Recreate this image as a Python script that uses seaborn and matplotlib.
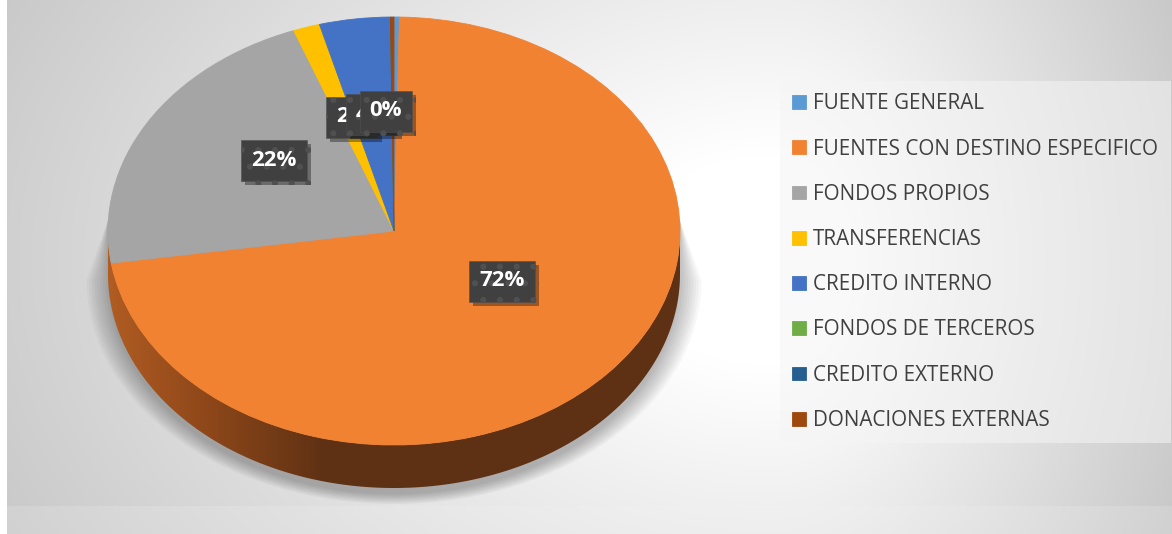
import numpy as np
import matplotlib
matplotlib.use("Agg")
import matplotlib.pyplot as plt
import seaborn as sns
from matplotlib.path import Path
from matplotlib.patches import PathPatch, Polygon
from matplotlib.colors import LinearSegmentedColormap
import matplotlib.patheffects as pe

# data (percent of total)
fuentes = ["FUENTE GENERAL", "FUENTES CON DESTINO ESPECIFICO", "FONDOS PROPIOS",
           "TRANSFERENCIAS", "CREDITO INTERNO", "FONDOS DE TERCEROS",
           "CREDITO EXTERNO", "DONACIONES EXTERNAS"]
valores = [0.3, 72.3, 21.7, 1.5, 4.0, 0.0, 0.0, 0.2]
etiquetas = ["72%", "22%", "2%", "4%", "0%"]
colores = ["#5B9BD5", "#F08232", "#A5A5A5", "#FFC000", "#4472C4",
           "#70AD47", "#255E91", "#9E480E"]

sns.set_theme(style="white")
plt.rcParams["font.family"] = ["Open Sans", "DejaVu Sans"]
plt.rcParams["hatch.color"] = "#5a5a5a"
plt.rcParams["hatch.linewidth"] = 2.0
pal = sns.color_palette(colores)

W, H = 1172, 534
fig = plt.figure(figsize=(W / 100, H / 100), dpi=100)
fig.patch.set_facecolor("#ffffff")

# background gradient of the chart area
bg = fig.add_axes([7 / W, 0, 1 - 7 / W, 1])
bg.set_axis_off()
yy, xx = np.mgrid[0:H, 7:W]
dx = (xx - 770) / np.where(xx < 770, 1000, 520)
dy = (yy - 260) / 700
r = np.sqrt(dx ** 2 + dy ** 2)
shade = 1 - 0.24 * np.clip((r - 0.15) / 0.8, 0, 1.1)
low = yy > 505
shade[low] = shade[low] * 0.8 + 0.2 * 0.95
bg.imshow(np.dstack([shade] * 3), aspect="auto", extent=(0, 1, 0, 1))
bg.set_xlim(0, 1)
bg.set_ylim(0, 1)

# pie axes: the box squashes the circle into the 3D ellipse
D = 43 / 214  # depth of the side, in radius units
ax = fig.add_axes([108 / W, (H - 488) / H, 572 / W, 471 / H])
ax.set_zorder(2)

# soft shadow under the cake
th = np.linspace(np.pi, 2 * np.pi, 200)
for s in np.linspace(0.0, 0.075, 9):
    arc = np.column_stack([(1 + s) * np.cos(th),
                           (1 + 0.6 * s) * np.sin(th) - D - 0.03])
    shp = np.vstack([[-1.0, 0.05], arc, [1.0, 0.05]])
    ax.add_patch(Polygon(shp, closed=True, facecolor="black", alpha=0.03,
                         lw=0, clip_on=False, zorder=0))

# side of the cake with horizontal shading
top = np.column_stack([np.cos(th), np.sin(th)])
bot = np.column_stack([np.cos(th[::-1]), np.sin(th[::-1]) - D])
side = PathPatch(Path(np.vstack([top, bot, top[:1]]), closed=True),
                 transform=ax.transData, facecolor="none", lw=0)
ax.add_patch(side)
side_cmap = LinearSegmentedColormap.from_list(
    "side", [(0, "#b05c22"), (0.18, "#8c4619"), (0.38, "#5e3114"), (1, "#5e3114")])
img = ax.imshow(np.linspace(0, 1, 300)[None, :], cmap=side_cmap, aspect="auto",
                extent=(-1, 1, -1 - D, 0), zorder=1)
img.set_clip_path(side)

# top face
wedges, _ = ax.pie(valores, colors=pal, startangle=90, counterclock=False,
                   wedgeprops=dict(linewidth=0.6, zorder=2))
for w in wedges:
    w.set_edgecolor(w.get_facecolor())
ax.set_aspect("auto")
ax.set_xlim(-1, 1)
ax.set_ylim(-1 - D, 1)
ax.set_axis_off()


def px(x, y):
    # pixel position in the picture -> data coordinates of the pie axes
    return (x - 394) / 286, (231 - y) / 214


label_pos = [(502, 281), (274, 160), (352, 117), (372, 114), (386, 111)]
for txt, (x, y) in zip(etiquetas, label_pos):
    t = ax.text(*px(x, y), txt, ha="center", va="center", color="white",
                fontsize=16, fontweight="bold", zorder=5,
                bbox=dict(boxstyle="square,pad=0.45", facecolor="#404040",
                          edgecolor="#505050", linewidth=0.4, hatch="."))
    t.get_bbox_patch().set_path_effects(
        [pe.SimplePatchShadow(offset=(3, -3), shadow_rgbFace="black", alpha=0.35),
         pe.Normal()])

# legend
leg = fig.legend(wedges, fuentes, loc="upper left",
                 bbox_to_anchor=(780 / W, 1 - 81 / H), borderaxespad=0,
                 fontsize=14.9, frameon=True, fancybox=False, facecolor="#f5f5f5",
                 edgecolor="none", framealpha=0.55, handlelength=0.65,
                 handleheight=0.65, handletextpad=0.35, labelspacing=1.17,
                 borderpad=0.6)
for t in leg.get_texts():
    t.set_color("#404040")

fig.savefig("out.png", dpi=100)
